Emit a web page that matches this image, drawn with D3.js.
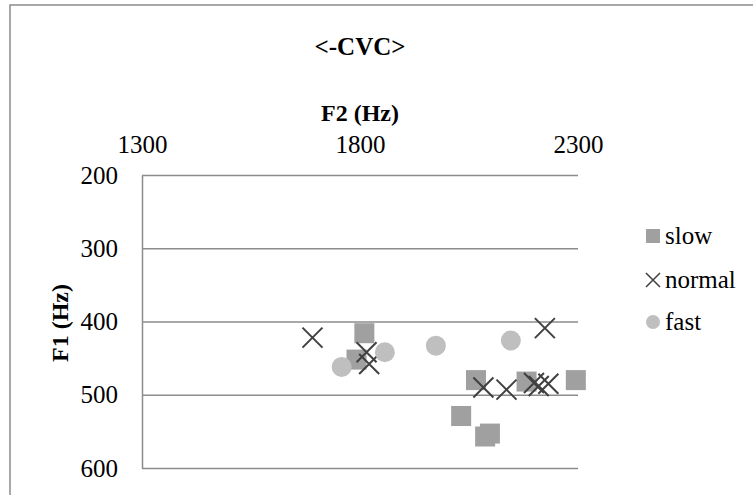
<!DOCTYPE html>
<html>
<head>
<meta charset="utf-8">
<script src="https://cdn.jsdelivr.net/npm/d3@7"></script>
<style>
body{margin:0;background:#fff;}
svg text{font-family:"Liberation Serif",serif;fill:#000;}
</style>
</head>
<body>
<div id="chart"></div>
<script>
// values (F2 = x, F1 = y)
let xTicks = [1300, 1800, 2300]
let yTicks = [200, 300, 400, 500, 600]

let slowF2 = [1810, 1792, 2066, 2182, 2295, 2032, 2087, 2098]
let slowF1 = [416, 452, 480, 482, 480, 529, 557, 553]

let normalF2 = [1691, 1815, 1821, 2224, 2083, 2136, 2199, 2210, 2232]
let normalF1 = [422, 442, 458, 409, 490, 493, 484, 488, 485]

let fastF2 = [1758, 1857, 1974, 2146]
let fastF1 = [462, 442, 433, 426]

let seriesNames = ["slow", "normal", "fast"]

function getConfig(){
    let width = 753, height = 495
    let margin = {top: 175, left: 142}
    let bodyWidth = 578 - 142
    let bodyHeight = 468 - 175
    let svg = d3.select("#chart").append("svg")
        .attr("width", width)
        .attr("height", height)
    let container = svg.append("g")
        .attr("transform", "translate(" + [margin.left, margin.top] + ")")
    return {width, height, margin, bodyWidth, bodyHeight, svg, container}
}

function getScales(config){
    let xScale = d3.scaleLinear().domain([1300, 2300]).range([0, config.bodyWidth])
    let yScale = d3.scaleLinear().domain([200, 600]).range([0, config.bodyHeight])
    return {xScale, yScale}
}

function drawChart(config, scales){
    let {svg, container, bodyWidth, bodyHeight} = config
    let {xScale, yScale} = scales

    // outer chart frame (runs past the window on right and bottom)
    svg.append("rect")
        .attr("x", 10).attr("y", 5)
        .attr("width", 780).attr("height", 520)
        .attr("fill", "none")
        .attr("stroke", "#8c8c8c")
        .attr("stroke-width", 1.5)

    let axisY = d3.axisLeft(yScale).tickValues(yTicks).tickFormat(d3.format("d"))
        .tickSize(-bodyWidth).tickSizeOuter(0).tickPadding(24)
    let gy = container.append("g").call(axisY)
    gy.selectAll("line").attr("stroke", "#8c8c8c").attr("stroke-width", 1.5)
    gy.select(".domain").attr("stroke", "#8c8c8c").attr("stroke-width", 1.5)
    gy.selectAll("text").style("font-size", "25px")

    let axisX = d3.axisTop(xScale).tickValues(xTicks).tickFormat(d3.format("d"))
        .tickSize(0).tickPadding(22)
    let gx = container.append("g").call(axisX)
    gx.select(".domain").remove()
    gx.selectAll("text").style("font-size", "25px")

    // slow: squares
    let s = 20
    container.selectAll("rect.slow")
        .data(d3.zip(slowF2, slowF1))
        .enter().append("rect")
        .attr("class", "slow")
        .attr("x", d => xScale(d[0]) - s/2)
        .attr("y", d => yScale(d[1]) - s/2)
        .attr("width", s).attr("height", s)
        .attr("fill", "#a0a0a0")

    // normal: crosses
    let c = 10
    let crosses = container.selectAll("g.normal")
        .data(d3.zip(normalF2, normalF1))
        .enter().append("g")
        .attr("class", "normal")
        .attr("transform", d => "translate(" + [xScale(d[0]), yScale(d[1])] + ")")
    crosses.append("path")
        .attr("d", "M" + (-c) + "," + (-c) + "L" + c + "," + c + "M" + c + "," + (-c) + "L" + (-c) + "," + c)
        .attr("stroke", "#404040")
        .attr("stroke-width", 2)

    // fast: circles
    container.selectAll("circle.fast")
        .data(d3.zip(fastF2, fastF1))
        .enter().append("circle")
        .attr("class", "fast")
        .attr("cx", d => xScale(d[0]))
        .attr("cy", d => yScale(d[1]))
        .attr("r", 10)
        .attr("fill", "#bfbfbf")

    // titles
    svg.append("text")
        .attr("x", 360).attr("y", 55)
        .attr("text-anchor", "middle")
        .style("font-size", "25px").style("font-weight", "bold")
        .text("<-CVC>")
    svg.append("text")
        .attr("x", 360).attr("y", 121)
        .attr("text-anchor", "middle")
        .style("font-size", "24px").style("font-weight", "bold")
        .text("F2 (Hz)")
    svg.append("text")
        .attr("transform", "translate(68,323) rotate(-90)")
        .attr("text-anchor", "middle")
        .style("font-size", "24px").style("font-weight", "bold")
        .text("F1 (Hz)")
}

function legend(config){
    let legend = config.svg.append("g").attr("transform", "translate(653,0)")
    let ys = [236, 280, 322]
    seriesNames.forEach((name, i) => {
        let row = legend.append("g").attr("transform", "translate(0," + ys[i] + ")")
        if(name == "slow"){
            row.append("rect").attr("x", -7).attr("y", -7).attr("width", 14).attr("height", 14)
                .attr("fill", "#a0a0a0")
        } else if(name == "normal"){
            row.append("path").attr("d", "M-7,-7L7,7M7,-7L-7,7")
                .attr("stroke", "#404040").attr("stroke-width", 1.5)
        } else {
            row.append("circle").attr("r", 7).attr("fill", "#bfbfbf")
        }
        row.append("text")
            .attr("x", 12).attr("y", 8)
            .style("font-size", "25px")
            .text(name)
    })
}

let config = getConfig()
let scales = getScales(config)
drawChart(config, scales)
legend(config)
</script>
</body>
</html>
